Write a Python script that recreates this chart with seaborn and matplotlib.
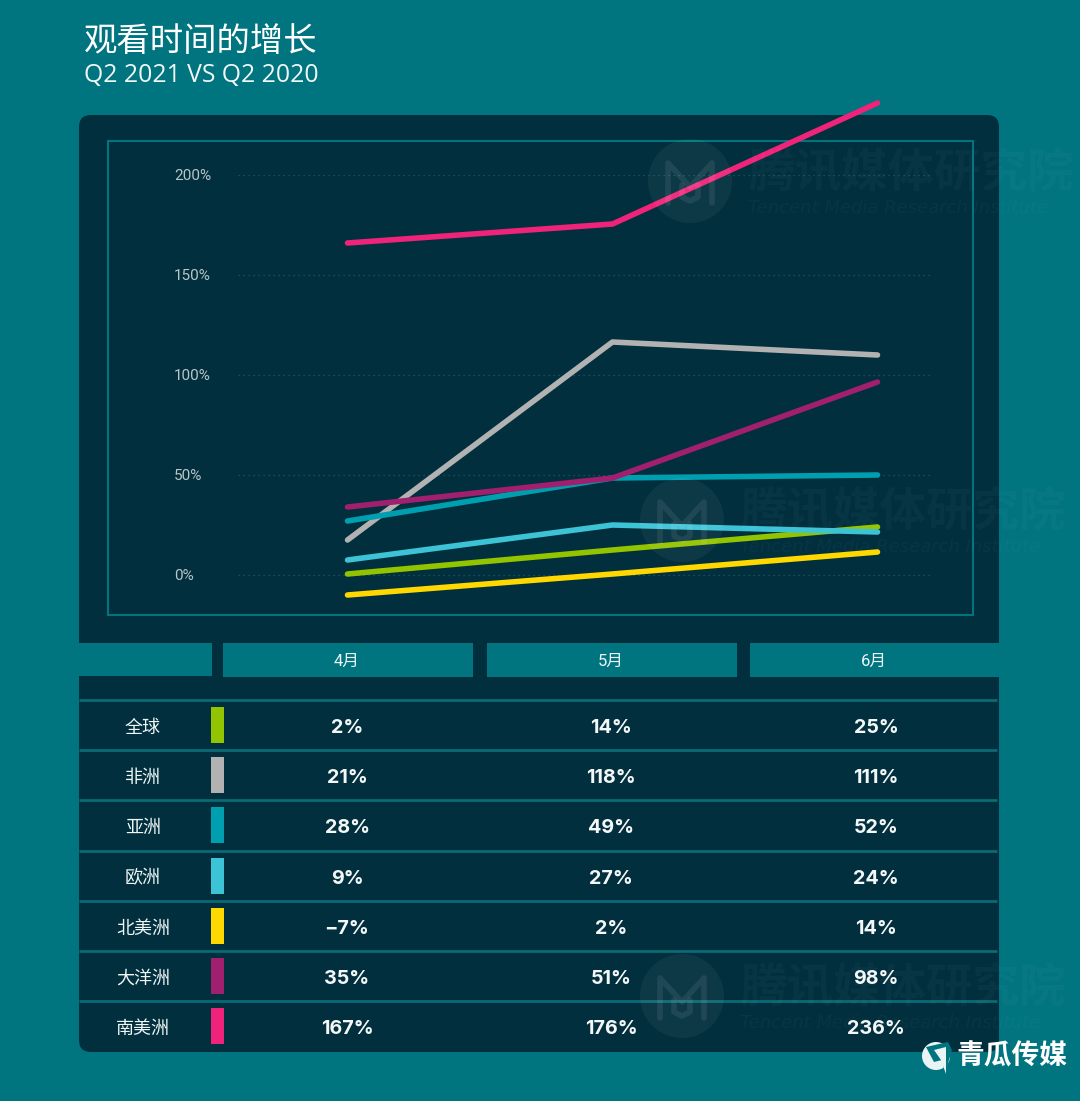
import matplotlib
matplotlib.use('Agg')
import matplotlib.pyplot as plt
import pandas as pd
import seaborn as sns
from matplotlib.patches import Circle, FancyBboxPatch, Polygon, Rectangle

W, H = 1080, 1101
BG = '#00747f'
PANEL = '#012f3d'
LINE = '#0a6a75'

months = ['4月', '5月', '6月']
regions = ['全球', '非洲', '亚洲', '欧洲', '北美洲', '大洋洲', '南美洲']
colors = ['#93c400', '#b2b2b2', '#009fb0', '#3cc3d6', '#ffd800', '#a01f6e', '#ef2379']

# what the lines actually show (differs a bit from the printed table)
global_line = [0.5, 12.5, 24]
africa_line = [17.5, 116.5, 110]
asia_line = [27, 48.5, 50]
europe_line = [7.5, 25, 21.5]
namerica_line = [-10, 0.5, 11.5]
oceania_line = [34, 48.5, 96.5]
samerica_line = [166, 175.5, 236]

# printed table
global_txt = ['2%', '14%', '25%']
africa_txt = ['21%', '118%', '111%']
asia_txt = ['28%', '49%', '52%']
europe_txt = ['9%', '27%', '24%']
namerica_txt = ['−7%', '2%', '14%']
oceania_txt = ['35%', '51%', '98%']
samerica_txt = ['167%', '176%', '236%']

y_ticks = [0, 50, 100, 150, 200]
y_labels = ['0%', '50%', '100%', '150%', '200%']

all_lines = [global_line, africa_line, asia_line, europe_line, namerica_line, oceania_line, samerica_line]
all_txt = [global_txt, africa_txt, asia_txt, europe_txt, namerica_txt, oceania_txt, samerica_txt]

rows = []
for region, vals in zip(regions, all_lines):
    for i, v in enumerate(vals):
        rows.append({'region': region, 'month': i, 'value': v})
df = pd.DataFrame(rows)

sns.set_theme(style='white')
plt.rcParams['font.family'] = ['Noto Sans CJK SC', 'DejaVu Sans']

fig = plt.figure(figsize=(W / 100, H / 100), dpi=100, facecolor=BG)


def pixel_axes(zorder):
    a = fig.add_axes([0, 0, 1, 1], zorder=zorder)
    a.set_xlim(0, W)
    a.set_ylim(H, 0)
    a.axis('off')
    a.patch.set_alpha(0)
    return a


bg = pixel_axes(0)

# dark panel and frame
bg.add_patch(FancyBboxPatch((79, 115), 920, 937, boxstyle='round,pad=0,rounding_size=12', lw=0, fc=PANEL))
bg.add_patch(Rectangle((108, 141), 865, 474, fill=False, ec=BG, lw=1.5))

# title
bg.text(84, 41, '观看时间的增长', color='white', fontsize=24, va='center', ha='left')
bg.text(84, 76, 'Q2 2021 VS Q2 2020', color='#f2f7f7', fontsize=17.8, va='center', ha='left',
        family=['Open Sans', 'DejaVu Sans'])

# table header
bg.add_patch(Rectangle((79, 643), 133, 33, lw=0, fc=BG))
header_x = [(223, 250), (487, 250), (750, 249)]
for (x0, w), m in zip(header_x, months):
    bg.add_patch(Rectangle((x0, 643), w, 34, lw=0, fc=BG))
    bg.text(x0 + w / 2 - 1, 661, m, color='#eef6f6', fontsize=12, ha='center', va='center',
            family=['Roboto', 'Noto Sans CJK SC'])

# table rows
col_x = [347, 611, 876]
for i, (region, c, txt) in enumerate(zip(regions, colors, all_txt)):
    top = 700 + i * 50.2
    bg.plot([79, 997], [top, top], color=LINE, lw=2, solid_capstyle='butt')
    bg.add_patch(Rectangle((211, top + 7), 13, 36, lw=0, fc=c))
    bg.text(143, top + 28, region, color='#eef6f6', fontsize=13, ha='center', va='center')
    for x, t in zip(col_x, txt):
        bg.text(x, top + 28, t, color='#f4f7f7', fontsize=14.2, fontweight='bold', ha='center', va='center',
                family=['Inter', 'DejaVu Sans'])

# line chart, y: 0% at 575px, 2px per percent
ax = fig.add_axes([238 / W, 1 - 615 / H, (932 - 238) / W, (615 - 175) / H], zorder=1)
ax.patch.set_alpha(0)
sns.lineplot(data=df, x='month', y='value', hue='region', hue_order=regions, palette=colors, ax=ax,
             lw=4, legend=False, errorbar=None, solid_capstyle='round', solid_joinstyle='round', clip_on=False)
ax.set_xlim((238 - 347.5) / 265, 2 + (932 - 877.5) / 265)
ax.set_ylim(-20, 200)
ax.set_xlabel('')
ax.set_ylabel('')
ax.set_xticks([])
ax.set_yticks(y_ticks)
ax.set_yticklabels(y_labels, color='#b9c6ca', fontsize=11, ha='left', family=['Roboto', 'DejaVu Sans'])
ax.tick_params(axis='y', length=0, pad=46)
ax.grid(axis='y', color='#24576380', lw=0.9, ls=(0, (1, 3)))
ax.set_axisbelow(True)
sns.despine(ax=ax, left=True, bottom=True)
for line in ax.get_lines():
    line.set_clip_on(False)

# watermarks and logo on top
top = pixel_axes(2)
marks = [(690, 181), (682, 520), (682, 996)]
for cx, cy in marks:
    top.add_patch(Circle((cx, cy), 42, fc='white', alpha=0.05, lw=0))
    top.plot([cx - 22, cx - 22, cx, cx + 22, cx + 22], [cy + 22, cy - 18, cy + 6, cy - 18, cy + 22],
             color='white', alpha=0.08, lw=4, solid_capstyle='round', solid_joinstyle='round')
    top.plot([cx - 8, cx - 8, cx, cx + 8, cx + 8], [cy + 4, cy + 16, cy + 20, cy + 16, cy + 4],
             color='white', alpha=0.08, lw=4, solid_capstyle='round')
    top.text(cx + 58, cy - 9, '腾讯媒体研究院', color='white', alpha=0.03, fontsize=33.5, fontweight='bold',
             ha='left', va='center')
    top.text(cx + 58, cy + 27, 'Tencent Media Research Institute', color='white', alpha=0.03, fontsize=13,
             style='italic', ha='left', va='center', family=['DejaVu Sans'])

top.add_patch(Circle((936, 1056), 14, fc='#eaf4f4', lw=0))
top.add_patch(Polygon([[926, 1047], [948, 1042], [952, 1050], [945, 1073], [942, 1060], [934, 1062]],
                      closed=True, fc=BG, lw=0))
top.add_patch(Polygon([[934, 1050], [946, 1047], [946, 1074], [941, 1060]], closed=True, fc='#eaf4f4', lw=0))
top.text(1012, 1056, '青瓜传媒', color='white', fontsize=20, fontweight='bold', ha='center', va='center')

fig.savefig('out.png', dpi=100, facecolor=BG)
